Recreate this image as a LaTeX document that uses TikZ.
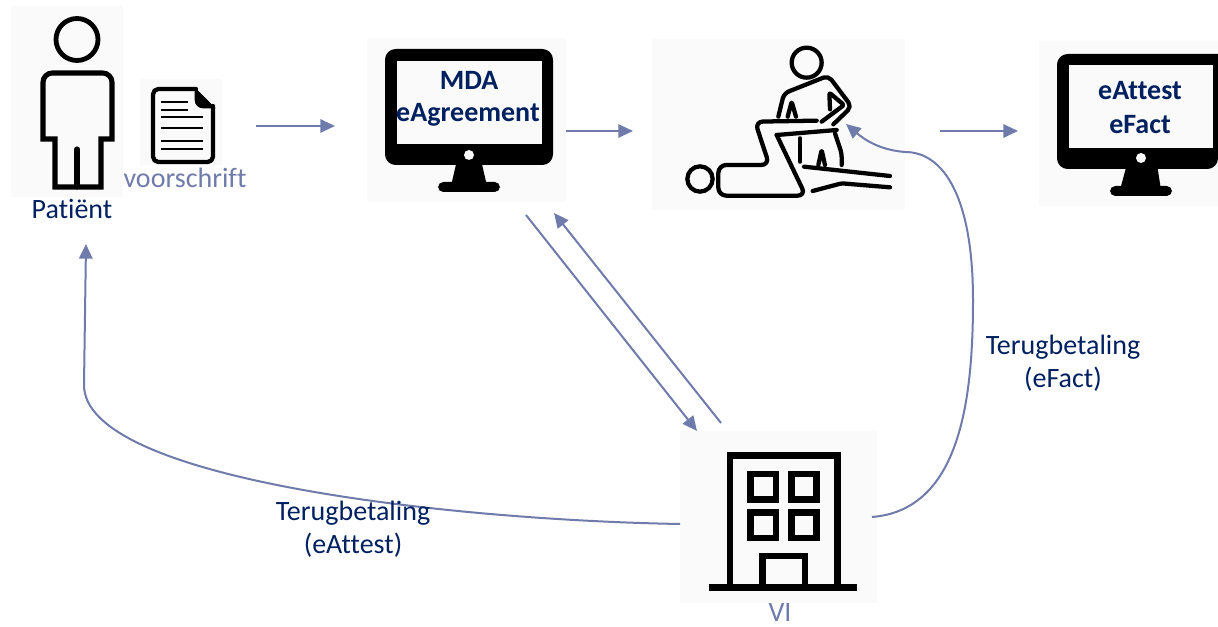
\documentclass[tikz,border=0pt]{standalone}
\usepackage{fontspec}
\setmainfont[RawFeature={-liga}]{Carlito}
\usetikzlibrary{arrows.meta}
\definecolor{navy}{HTML}{002060}
\definecolor{flow}{HTML}{6F7BAA}
\definecolor{pale}{HTML}{FAFAFA}
\tikzset{
  panel/.style={fill=pale,draw=none,inner sep=0pt,anchor=north west},
  icon/.style={line width=3.6pt,draw=black,line join=round,line cap=round},
  thin icon/.style={line width=1.8pt,draw=black},
  flowline/.style={draw=flow,line width=1.5pt,-{Triangle[length=11pt,width=10pt]}},
  lbl/.style={text=navy,font=\fontsize{21}{25}\selectfont,align=center,inner sep=0pt},
  pale lbl/.style={text=flow,font=\fontsize{21}{25}\selectfont,inner sep=0pt},
  screen lbl/.style={text=navy,font=\fontsize{21}{25}\selectfont\bfseries,inner sep=0pt},
}
\begin{document}
\begin{tikzpicture}[x=0.75pt,y=-0.75pt]
\useasboundingbox (0,0) rectangle (1218,627);
% panels
\node[panel,minimum width=84pt,minimum height=143.25pt] (patientpanel) at (11,6) {};
\node[panel,minimum width=61.5pt,minimum height=64.5pt] (docpanel) at (140,79) {};
\node[panel,minimum width=149.25pt,minimum height=123pt] (mdapanel) at (367,38) {};
\node[panel,minimum width=189.75pt,minimum height=128.25pt] (carepanel) at (652,39) {};
\node[panel,minimum width=134.25pt,minimum height=123.75pt] (attestpanel) at (1039,41) {};
\node[panel,minimum width=147.75pt,minimum height=129pt] (vipanel) at (680,431) {};
% person
\draw[icon] (77,39.5) circle (21);
\draw[icon,line width=3.8pt,line join=miter,line cap=butt] (55,187) -- (55,139) -- (43,139) [rounded corners=7pt] -- (43,73) -- (112,73) [sharp corners] -- (112,139) -- (101,139) -- (101,187) -- cycle;
\draw[icon,line width=3.8pt] (77,149) -- (77,187);
% document
\draw[icon,line width=3.2pt,rounded corners=4pt] (196,89) -- (153,89) -- (153,162) -- (213,162) -- (213,106);
\fill[black,line join=round,draw=black,line width=0.5pt] (195,88) -- (215,108) -- (203,108) to[out=180,in=-90] (195,100) -- cycle;
\foreach \yy/\xx in {102/188,110/188,117/203,128/203,141/203,149/203}
  \draw[thin icon] (161,\yy) -- (\xx,\yy);
% MDA monitor
\fill[black,rounded corners=8pt] (385,49) rectangle (553,165);
\fill[pale] (397,61) rectangle (542,144);
\fill[pale] (469,155) circle (5);
\fill[black] (457,160) -- (481,160) -- (487,186) -- (451,186) -- cycle;
\fill[black,rounded corners=4pt] (438,182) rectangle (500,192);
% eAttest monitor
\fill[black,rounded corners=8pt] (1218,54) -- (1057,54) -- (1057,169) -- (1218,169) [sharp corners] -- cycle;
\fill[pale] (1069,65) rectangle (1213,148);
\fill[pale] (1141,158) circle (5);
\fill[black] (1127,164) -- (1157,164) -- (1161,190) -- (1120,190) -- cycle;
\fill[black,rounded corners=4pt] (1110,186) rectangle (1172,196);
% therapist
\begin{scope}[shift={(640,30)},x=0.25pt,y=-0.25pt,icon/.append style={line width=3.2pt}]
\draw[icon] (500,98) circle (45);
\draw[icon,rounded corners=4pt] (415,260) -- (432,190) -- (565,137) -- (635,230) -- (580,283);
\draw[icon,rounded corners=1.5pt] (545,275) -- (612,225) -- (568,188) -- (570,238);
\draw[icon,rounded corners=1.5pt] (443,260) -- (455,215) -- (468,260);
\draw[icon,rounded corners=6pt] (530,272) -- (345,275) -- (388,405) -- (235,405) -- (235,497) -- (497,497) -- (410,315);
\draw[icon] (410,315) -- (590,300);
\draw[icon] (180,447) circle (38);
\draw[icon] (480,325) -- (480,395);
\draw[icon,rounded corners=3pt] (585,310) -- (605,370) -- (605,405);
\draw[icon,rounded corners=1.5pt] (535,405) -- (545,360) -- (555,405);
\draw[icon] (492,410) -- (750,438);
\draw[icon,rounded corners=2pt] (518,483) -- (605,460) -- (750,472);
\end{scope}
% building
\begin{scope}[shift={(670,420)},x=0.25pt,y=-0.25pt]
\draw[line width=5pt,draw=black] (180,502) -- (180,107) -- (503,107) -- (503,502);
\draw[line width=5pt,draw=black] (117,503) -- (560,503);
\foreach \xa/\ya in {242/162,364/162,242/278,364/278}
  \draw[line width=5pt,draw=black] (\xa,\ya) rectangle ++(76,76);
\draw[line width=5pt,draw=black] (278,502) -- (278,408) -- (405,408) -- (405,502);
\end{scope}
% labels
\node[lbl] (patient) at (72,209) {Patiënt};
\node[pale lbl] (voorschrift) at (185,178) {voorschrift};
\node[screen lbl] (mda) at (469,80) {MDA};
\node[screen lbl] (eagr) at (468,115) {eAgreement};
\node[screen lbl] (eatt) at (1140,91) {eAttest};
\node[screen lbl] (efact) at (1140,125) {eFact};
\node[pale lbl] (vi) at (780,613) {VI};
% connector ends
\coordinate (a1) at (256,126); \coordinate (a2) at (335,126);
\coordinate (b1) at (566,131); \coordinate (b2) at (633,131);
\coordinate (c1) at (940,131); \coordinate (c2) at (1018,131);
\coordinate (d1) at (526,215); \coordinate (d2) at (697,431);
\coordinate (e1) at (721,423); \coordinate (e2) at (554,213);
\coordinate (f1) at (680,524); \coordinate (f2) at (86,244);
\coordinate (g1) at (872,517); \coordinate (g2) at (846,124);
\draw[flowline] (a1) -- (a2);
\draw[flowline] (b1) -- (b2);
\draw[flowline] (c1) -- (c2);
\draw[flowline] (d1) -- (d2);
\draw[flowline] (e1) -- (e2);
\draw[flowline] (f1) .. controls (450,520) and (84,480) .. (84,385) -- (f2);
\draw[flowline] (g1) .. controls (960,510) and (973,400) .. (973,300) .. controls (973,200) and (945,152) .. (905,152) .. controls (880,150) and (865,140) .. (g2);
\node[lbl] (tb1) at (353,529) {Terugbetaling\\(eAttest)};
\node[lbl] (tb2) at (1063,363) {Terugbetaling\\(eFact)};
\end{tikzpicture}
\end{document}
